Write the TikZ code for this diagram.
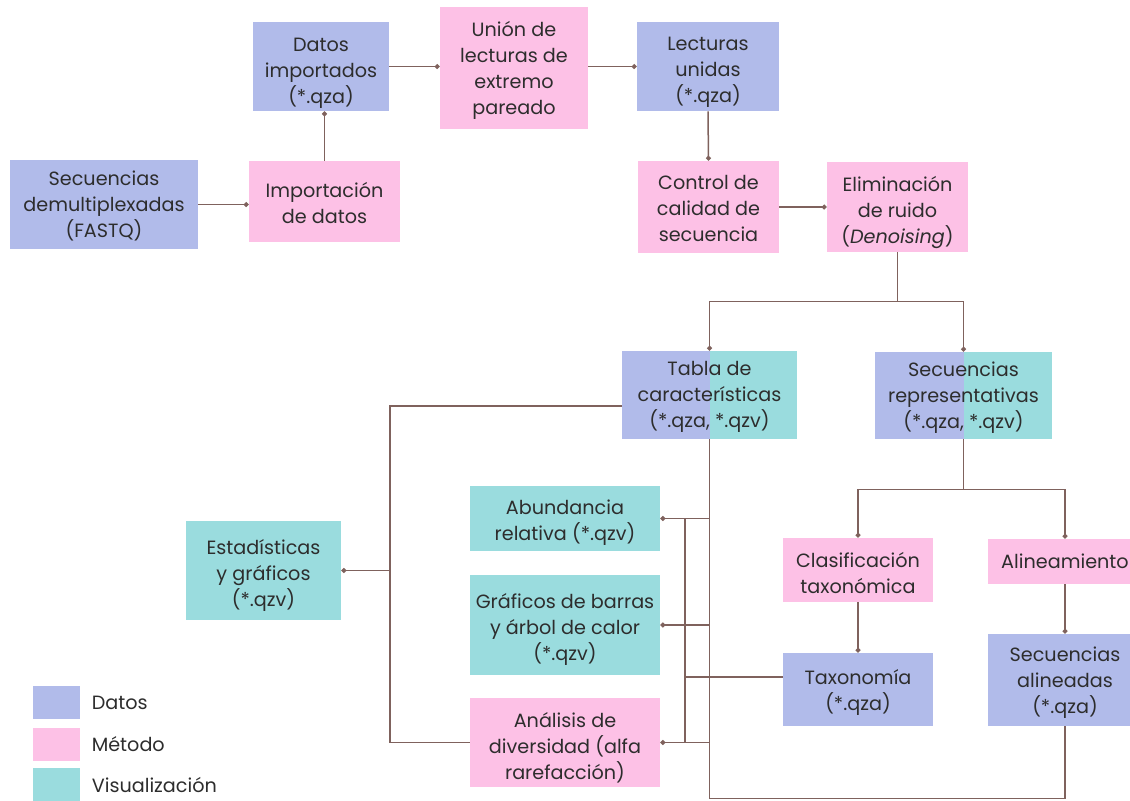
\documentclass[tikz,border=0pt]{standalone}
\usepackage{fontspec}
\setmainfont{Poppins}
\usetikzlibrary{arrows.meta,positioning}
\definecolor{azul}{HTML}{B1BBEA}
\definecolor{rosa}{HTML}{FDC1E6}
\definecolor{turq}{HTML}{9ADCDE}
\definecolor{cafe}{HTML}{7F625D}
\definecolor{textoc}{HTML}{2D2D2D}
\newcommand{\letra}{\fontsize{9.6}{13}\selectfont}
\newcommand{\alto}[1]{\rule{0pt}{#1}}
\tikzset{
  caja/.style={align=center, inner sep=0pt, text=textoc, font=\letra},
  tam/.style 2 args={minimum width=#1, minimum height=#2},
  datos/.style={caja, fill=azul},
  metodo/.style={caja, fill=rosa},
  visual/.style={caja, fill=turq},
  mixto/.style={caja, path picture={
      \fill[azul] (path picture bounding box.south west) rectangle (path picture bounding box.north);
      \fill[turq] (path picture bounding box.south) rectangle (path picture bounding box.north east);}},
  linea/.style={draw=cafe, line width=0.75pt},
  flecha/.style={linea, -{Circle[length=2.4pt]}},
}
\begin{document}
\begin{tikzpicture}[x=0.5pt, y=-0.5pt]
  \path[use as bounding box, fill=white] (0,0) rectangle (1130,800);
  % importación
  \node[datos, tam={94pt}{44.5pt}] (secdem) at (104,204.5) {\alto{9pt}Secuencias\\demultiplexadas\\(FASTQ)};
  \node[metodo, tam={75.5pt}{40.5pt}] (impor) at (324.5,201.5) {\alto{9pt}Importación\\de datos};
  \node[datos, tam={68pt}{44.5pt}] (datimp) at (321,66.5) {\alto{13pt}Datos\\importados\\(*.qza)};
  \node[metodo, tam={74pt}{61pt}] (union) at (514,68) {\alto{10pt}Unión de\\lecturas de\\extremo\\pareado};
  \node[datos, tam={71pt}{44.5pt}] (lectu) at (708,66.5) {\alto{12pt}Lecturas\\unidas\\(*.qza)};
  \node[metodo, tam={70.5pt}{46pt}] (control) at (708.5,207) {\alto{8.5pt}Control de\\calidad de\\secuencia};
  \node[metodo, tam={70.5pt}{45pt}] (elim) at (897.5,207) {\alto{13pt}Eliminación\\de ruido\\(\textit{Denoising})};
  % resultados
  \node[mixto, tam={87.5pt}{44pt}] (tabla) at (709.5,395) {\alto{8.5pt}Tabla de\\características\\(*.qza, *.qzv)};
  \node[mixto, tam={88.5pt}{43.5pt}] (secrep) at (963.5,395.5) {\alto{9pt}Secuencias\\representativas\\(*.qza, *.qzv)};
  \node[visual, tam={95pt}{32.5pt}] (abund) at (565,518.5) {\alto{11.5pt}Abundancia\\relativa (*.qzv)};
  \node[visual, tam={95pt}{50pt}] (graf) at (565,625) {\alto{12pt}Gráficos de barras\\y árbol de calor\\(*.qzv)};
  \node[metodo, tam={95pt}{44.5pt}] (anal) at (565,742.5) {\alto{12.5pt}Análisis de\\diversidad (alfa\\rarefacción)};
  \node[visual, tam={77.5pt}{49.5pt}] (estad) at (263.5,570.5) {\alto{12pt}Estadísticas\\y gráficos\\(*.qzv)};
  \node[metodo, tam={75pt}{32pt}] (clasif) at (858,570) {\alto{10.5pt}Clasificación\\taxonómica};
  \node[metodo, tam={77pt}{22.5pt}] (aline) at (1065,561.5) {Alineamiento};
  \node[datos, tam={75pt}{36.5pt}] (taxo) at (858,689.5) {\alto{10.5pt}Taxonomía\\(*.qza)};
  \node[datos, tam={77pt}{46pt}] (secali) at (1065,680) {\alto{10pt}Secuencias\\alineadas\\(*.qza)};
  % flujo superior
  \draw[flecha] (secdem.east) -- (secdem.east -| impor.west);
  \draw[flecha] (impor.north) -- (impor.north |- datimp.south);
  \draw[flecha] (datimp.east) -- (datimp.east -| union.west);
  \draw[flecha] (lectu.west -| union.east) -- (lectu.west);
  \draw[flecha] (lectu.south) -- (control.north);
  \draw[flecha] (control.east) -- (control.east -| elim.west);
  % ramas
  \draw[linea] (elim.south) -- ++(0,49) coordinate (rama1);
  \draw[flecha] (rama1) -| (tabla.north);
  \draw[flecha] (rama1) -| (secrep.north);
  \draw[linea] (secrep.south) -- ++(0,50) coordinate (rama2);
  \draw[flecha] (rama2) -| (clasif.north);
  \draw[flecha] (rama2) -| (aline.north);
  \draw[flecha] (clasif.south) -- (taxo.north);
  \draw[flecha] (aline.south) -- (secali.north);
  % tabla hacia visualizaciones
  \draw[linea] (tabla.south) -- ++(0,359) coordinate (fondo) -| (secali.south);
  \draw[flecha] (tabla.south |- abund.east) -- (abund.east);
  \draw[flecha] (tabla.south |- graf.east) -- (graf.east);
  \draw[flecha] (tabla.south |- anal.east) -- (anal.east);
  \coordinate (interno) at (685,677);
  \draw[linea] (interno |- abund.east) -- (interno |- anal.east);
  \draw[linea] (taxo.west |- interno) -- (interno);
  \coordinate (izq) at (390,406);
  \draw[linea] (tabla.west |- izq) -- (izq) |- (anal.west);
  \draw[flecha] (izq |- estad.east) -- (estad.east);
  % leyenda
  \foreach \y/\col/\txt in {702.5/azul/Datos, 744/rosa/Método, 784.5/turq/Visualización}{
    \node[fill=\col, tam={23.5pt}{16.5pt}, inner sep=0pt] (ley-\col) at (56.5,\y) {};
    \node[caja, right=5.5pt of ley-\col] {\txt};
  }
\end{tikzpicture}
\end{document}
